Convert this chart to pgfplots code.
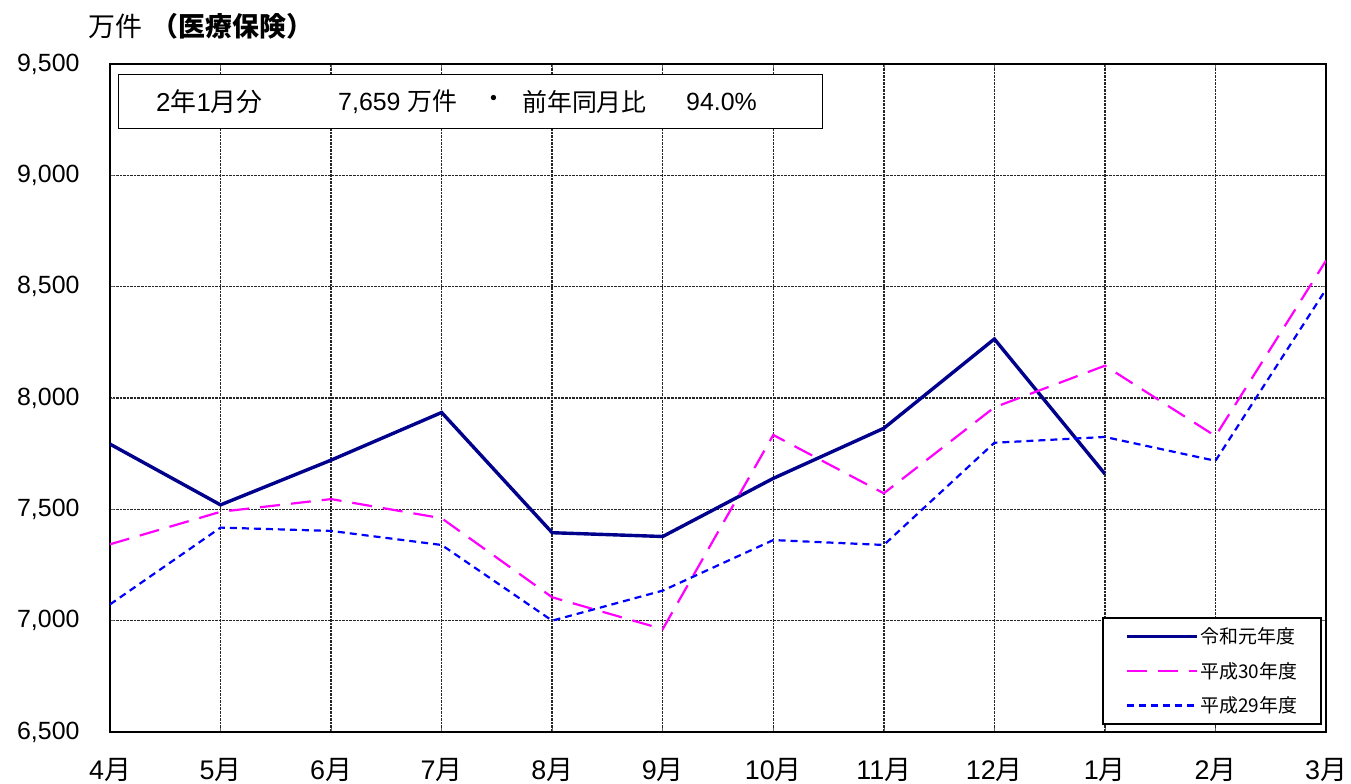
\documentclass[border=0pt]{standalone}
\usepackage{fontspec}
\setmainfont{Liberation Sans}
\newfontfamily\jp{Noto Sans CJK JP}
\usepackage{pgfplots}
\pgfplotsset{compat=1.18}
\newcommand{\J}[1]{{\jp #1}}
\definecolor{navyc}{RGB}{0,0,140}
\definecolor{magc}{RGB}{255,0,255}
\definecolor{bluec}{RGB}{0,0,255}
\begin{document}
\begin{tikzpicture}
\begin{axis}[
  name=ax,
  scale only axis,
  width=1216bp, height=668bp,
  xmin=0, xmax=11, ymin=6500, ymax=9500,
  xtick={0,...,11},
  xticklabels={4\J{月},5\J{月},6\J{月},7\J{月},8\J{月},9\J{月},10\J{月},11\J{月},12\J{月},1\J{月},2\J{月},3\J{月}},
  ytick={6500,7000,...,9500},
  /pgf/number format/.cd, 1000 sep={,}, assume math mode=true,
  /pgfplots/.cd,
  yticklabel style={font=\fontsize{25}{28}\selectfont, black, xshift=-27bp},
  xticklabel style={font=\fontsize{27}{30}\selectfont, black, yshift=-23bp},
  grid=major,
  major grid style={black!85, densely dotted, line width=1.5bp},
  axis line style={black, line width=1.8bp},
  major tick length=4bp,
  tick style={black!60, line width=0.6bp},
  legend style={at={(0.9967,0.172)}, anchor=north east, draw=black, line width=1.6bp,
    font=\fontsize{19}{22}\selectfont\jp, row sep=13bp, inner xsep=22bp, inner ysep=8bp,
    legend cell align=left},
  legend image code/.code={\draw[#1] (0bp,0bp) -- (70bp,0bp);},
]
\addplot[navyc, line width=3.4bp] coordinates {
 (0,7793) (1,7520) (2,7721) (3,7935) (4,7395) (5,7378) (6,7639) (7,7864) (8,8265) (9,7659)};
\addlegendentry{令和元年度}
\addplot[magc, line width=2.2bp, dash pattern=on 20bp off 11bp] coordinates {
 (0,7343) (1,7489) (2,7546) (3,7460) (4,7105) (5,6962) (6,7834) (7,7572) (8,7958) (9,8145) (10,7829) (11,8617)};
\addlegendentry{平成30年度}
\addplot[bluec, line width=2.2bp, dash pattern=on 7bp off 5bp] coordinates {
 (0,7073) (1,7418) (2,7403) (3,7340) (4,7000) (5,7135) (6,7362) (7,7340) (8,7799) (9,7825) (10,7718) (11,8488)};
\addlegendentry{平成29年度}
\node[draw=black, line width=1bp, fill=white, anchor=north west, minimum width=704bp, minimum height=54bp, inner sep=0pt]
  (box) at (rel axis cs:0.0066,0.985) {};
\end{axis}
\node[anchor=west, inner sep=0pt, font=\fontsize{26}{28}\selectfont] at ([xshift=38bp]box.west) {2\J{年}1\J{月分}};
\node[anchor=west, inner sep=0pt, font=\fontsize{25}{28}\selectfont] at ([xshift=220bp]box.west) {7,659 \J{万件}};
\node[anchor=center, inner sep=0pt, font=\fontsize{25}{28}\selectfont] at ([xshift=376bp]box.west) {\J{・}};
\node[anchor=west, inner sep=0pt, font=\fontsize{25}{28}\selectfont] at ([xshift=404bp]box.west) {\J{前年同月比}};
\node[anchor=west, inner sep=0pt, font=\fontsize{25}{28}\selectfont] at ([xshift=568bp]box.west) {94.0\%};
\node[anchor=west, inner sep=0pt, font=\fontsize{27}{29}\selectfont\jp] at ([xshift=-22bp,yshift=38bp]ax.north west) {万件\hspace{10bp}\textbf{（医療保険）}};
\pgfresetboundingbox
\path[use as bounding box] ([xshift=-110bp,yshift=-51bp]ax.south west) rectangle ([xshift=25bp,yshift=64bp]ax.north east);
\end{tikzpicture}
\end{document}
